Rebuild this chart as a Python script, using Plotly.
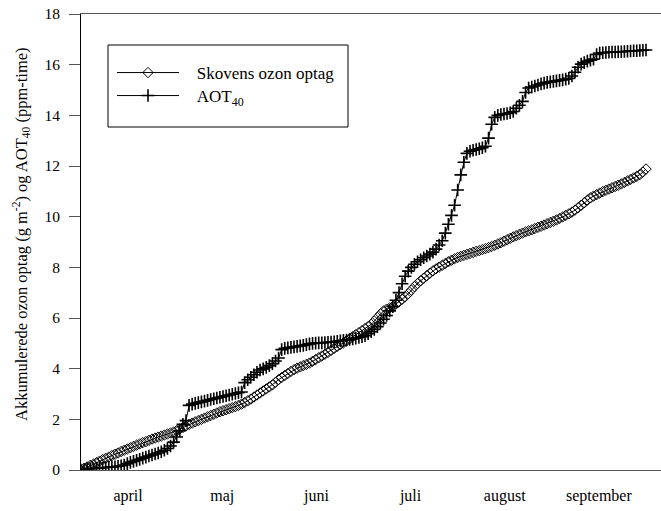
import plotly.graph_objects as go

# Season days counted from 1 April (day 0) to the end of September
months = ["april", "maj", "juni", "juli", "august", "september"]
month_edges = [0, 30.5, 61, 91.5, 122, 152.5, 183]

# Accumulated ozone uptake by the forest (g m-2), one value per day
skov_optag = [
    0.00, 0.06, 0.12, 0.18, 0.23, 0.29, 0.35, 0.41, 0.46, 0.51,
    0.57, 0.62, 0.67, 0.73, 0.78, 0.83, 0.88, 0.93, 0.98, 1.03,
    1.08, 1.12, 1.17, 1.22, 1.26, 1.30, 1.34, 1.38, 1.42, 1.46,
    1.50, 1.55, 1.62, 1.68, 1.74, 1.80, 1.85, 1.90, 1.95, 2.00,
    2.05, 2.10, 2.15, 2.20, 2.25, 2.30, 2.34, 2.38, 2.42, 2.46,
    2.50, 2.55, 2.60, 2.66, 2.73, 2.80, 2.88, 2.96, 3.04, 3.12,
    3.20, 3.28, 3.36, 3.46, 3.57, 3.65, 3.73, 3.81, 3.89, 3.96,
    4.02, 4.07, 4.12, 4.17, 4.22, 4.29, 4.36, 4.43, 4.50, 4.57,
    4.64, 4.72, 4.80, 4.88, 4.95, 5.02, 5.10, 5.18, 5.26, 5.34,
    5.42, 5.50, 5.58, 5.66, 5.75, 5.88, 6.02, 6.16, 6.28, 6.35,
    6.40, 6.46, 6.55, 6.64, 6.74, 6.84, 6.96, 7.10, 7.24, 7.36,
    7.47, 7.57, 7.67, 7.77, 7.86, 7.94, 8.01, 8.08, 8.15, 8.22,
    8.28, 8.34, 8.39, 8.43, 8.47, 8.51, 8.55, 8.59, 8.63, 8.66,
    8.70, 8.74, 8.78, 8.82, 8.87, 8.92, 8.97, 9.03, 9.09, 9.14,
    9.20, 9.25, 9.30, 9.35, 9.40, 9.44, 9.48, 9.53, 9.58, 9.62,
    9.67, 9.72, 9.77, 9.82, 9.87, 9.93, 9.99, 10.05, 10.11, 10.18,
    10.26, 10.35, 10.45, 10.55, 10.65, 10.74, 10.81, 10.87, 10.93, 10.99,
    11.04, 11.09, 11.14, 11.19, 11.24, 11.29, 11.35, 11.41, 11.47, 11.53,
    11.59, 11.66, 11.76, 11.88,
]

# Accumulated AOT40 (ppm-time), one value per day
aot40 = [
    0.00, 0.02, 0.04, 0.05, 0.06, 0.07, 0.08, 0.09, 0.10, 0.11,
    0.12, 0.13, 0.15, 0.17, 0.20, 0.25, 0.30, 0.34, 0.38, 0.42,
    0.47, 0.51, 0.55, 0.59, 0.63, 0.67, 0.72, 0.78, 0.85, 0.95,
    1.10, 1.30, 1.55, 1.80, 1.95, 2.55, 2.60, 2.63, 2.66, 2.69,
    2.72, 2.75, 2.78, 2.81, 2.84, 2.87, 2.90, 2.93, 2.96, 2.99,
    3.02, 3.05, 3.08, 3.45, 3.56, 3.66, 3.76, 3.86, 3.95, 3.99,
    4.05, 4.12, 4.20, 4.30, 4.42, 4.75, 4.80, 4.82, 4.84, 4.86,
    4.88, 4.90, 4.92, 4.95, 4.98, 5.00, 5.01, 5.02, 5.02, 5.03,
    5.04, 5.05, 5.06, 5.08, 5.10, 5.12, 5.13, 5.15, 5.17, 5.20,
    5.23, 5.26, 5.30, 5.38, 5.46, 5.55, 5.66, 5.80, 5.95, 6.10,
    6.28, 6.45, 6.70, 7.00, 7.35, 7.65, 7.85, 8.00, 8.12, 8.22,
    8.30, 8.38, 8.45, 8.52, 8.60, 8.72, 8.88, 9.05, 9.35, 9.70,
    10.05, 10.45, 11.05, 11.65, 12.15, 12.50, 12.58, 12.62, 12.65, 12.68,
    12.72, 12.78, 13.10, 13.65, 13.92, 14.00, 14.03, 14.05, 14.07, 14.10,
    14.15, 14.28, 14.40, 14.55, 14.90, 15.08, 15.12, 15.16, 15.20, 15.24,
    15.27, 15.30, 15.32, 15.34, 15.36, 15.38, 15.40, 15.43, 15.46, 15.55,
    15.70, 15.90, 16.02, 16.08, 16.14, 16.18, 16.22, 16.40, 16.46, 16.47,
    16.48, 16.49, 16.50, 16.50, 16.51, 16.51, 16.52, 16.53, 16.54, 16.55,
    16.55, 16.56, 16.57, 16.58,
]

days_skov = list(range(len(skov_optag)))
days_aot = list(range(len(aot40)))

SERIF = "Times New Roman, Liberation Serif, DejaVu Serif, serif"
W, H = 661, 511
L, R, T, B = 81, 0, 14, 41
plot_w = W - L - R
plot_h = H - T - B
# the season's last day sits a little inside the right edge
x_max = 183 * plot_w / 565.0
x_range = [0, x_max]


def px_x(px):
    return (px - L) / plot_w


def px_y(py):
    return (H - B - py) / plot_h


fig = go.Figure()

fig.add_trace(go.Scatter(
    x=days_skov, y=skov_optag, mode="lines+markers",
    name="\u00a0\u00a0\u00a0Skovens ozon optag", legend="legend",
    line=dict(color="black", width=1),
    marker=dict(symbol="diamond-open", size=8, color="black",
                line=dict(color="black", width=1)),
))
fig.add_trace(go.Scatter(
    x=days_aot, y=aot40, mode="lines+markers",
    name="\u00a0\u00a0\u00a0AOT<sub>40</sub>", legend="legend2",
    line=dict(color="black", width=1),
    marker=dict(symbol="cross-thin-open", size=9, color="black",
                line=dict(color="black", width=1.6)),
))

mid = [(a + b) / 2 for a, b in zip(month_edges[:-1], month_edges[1:])]

legend_common = dict(
    xanchor="left", yanchor="middle",
    bgcolor="rgba(0,0,0,0)", borderwidth=0,
    font=dict(family=SERIF, size=17, color="black"),
    itemwidth=62,
)

fig.update_layout(
    width=W, height=H,
    margin=dict(l=L, r=R, t=T, b=B),
    paper_bgcolor="white", plot_bgcolor="white",
    font=dict(family=SERIF, size=15, color="black"),
    showlegend=True,
    legend=dict(x=px_x(112), y=px_y(73), **legend_common),
    legend2=dict(x=px_x(112), y=px_y(96), **legend_common),
    # month names centred between the month boundaries
    xaxis=dict(
        range=x_range, tickmode="array", tickvals=mid, ticktext=months,
        ticks="outside", ticklen=11, tickcolor="rgba(0,0,0,0)",
        tickfont=dict(family=SERIF, size=16, color="black"),
        showline=True, linecolor="#555", linewidth=1, mirror=True,
        showgrid=False, zeroline=False,
    ),
    # month boundary ticks crossing the axis line
    xaxis2=dict(
        range=x_range, overlaying="x", anchor="y", side="bottom",
        tickmode="array", tickvals=month_edges, showticklabels=False,
        ticks="outside", ticklen=7, tickcolor="black", tickwidth=1,
        showline=False, showgrid=False, zeroline=False,
    ),
    xaxis3=dict(
        range=x_range, overlaying="x", anchor="y", side="bottom",
        tickmode="array", tickvals=month_edges, showticklabels=False,
        ticks="inside", ticklen=7, tickcolor="black", tickwidth=1,
        showline=False, showgrid=False, zeroline=False,
    ),
    yaxis=dict(
        range=[0, 18], tickmode="array", tickvals=list(range(0, 19, 2)),
        ticks="outside", ticklen=11, tickcolor="#555", tickwidth=1,
        ticklabelstandoff=6,
        tickfont=dict(family=SERIF, size=15.5, color="black"),
        showline=True, linecolor="black", linewidth=1, mirror=False,
        showgrid=False, zeroline=False,
    ),
)

# frame around the legend entries
fig.add_shape(
    type="rect", xref="paper", yref="paper",
    x0=px_x(108), x1=px_x(348), y0=px_y(127), y1=px_y(45),
    line=dict(color="black", width=1), fillcolor="rgba(0,0,0,0)",
)

# rotated axis title
fig.add_annotation(
    xref="paper", yref="paper", x=px_x(21), y=px_y(234),
    text="Akkumulerede ozon optag (g m<sup>-2</sup>) og AOT<sub>40</sub> (ppm-time)",
    textangle=-90, showarrow=False, xanchor="center", yanchor="middle",
    font=dict(family=SERIF, size=16.5, color="black"),
)

fig.write_html("out.html")
